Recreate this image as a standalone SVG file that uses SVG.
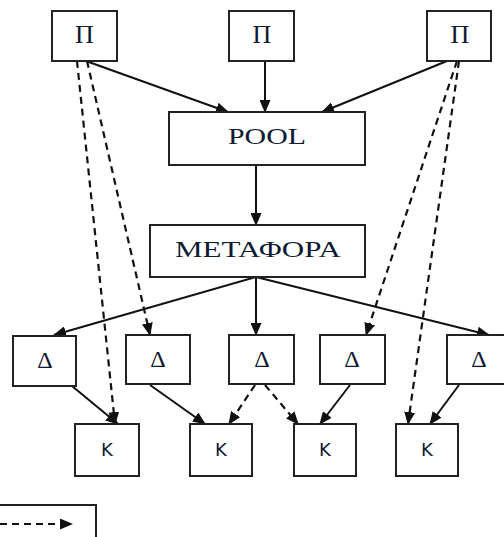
<svg xmlns="http://www.w3.org/2000/svg" width="504" height="537" viewBox="0 0 504 537">
<style>
.box{fill:#fff;stroke:#222;stroke-width:2}
.t{font-family:"Liberation Serif","Times New Roman",serif;fill:#0f1a33;text-anchor:middle}
.k{font-family:"DejaVu Sans","Liberation Sans",sans-serif;fill:#0f1a33;text-anchor:middle;font-size:18px}
.s{stroke:#111;stroke-width:2;fill:none;marker-end:url(#ah)}
.d{stroke:#111;stroke-width:2.2;fill:none;stroke-dasharray:7 5;marker-end:url(#ah)}
</style>
<defs>
<marker id="ah" markerUnits="userSpaceOnUse" markerWidth="13" markerHeight="11" refX="12" refY="5.5" orient="auto">
<path d="M0,0 L13,5.5 L0,11 z" fill="#111"/>
</marker>
</defs>
<g id="connectors">
<line class="s" x1="86" y1="61" x2="228" y2="112"/>
<line class="s" x1="265" y1="61" x2="265" y2="112"/>
<line class="s" x1="447" y1="61" x2="322" y2="112"/>
<line class="s" x1="256" y1="165" x2="256" y2="225"/>
<line class="s" x1="256" y1="277" x2="54" y2="335"/>
<line class="s" x1="256" y1="277" x2="256" y2="335"/>
<line class="s" x1="256" y1="277" x2="489" y2="335"/>
<line class="s" x1="72" y1="386" x2="118" y2="424"/>
<line class="s" x1="150" y1="385" x2="205" y2="424"/>
<line class="s" x1="350" y1="385" x2="320" y2="424"/>
<line class="s" x1="459" y1="385" x2="430" y2="424"/>
<line class="d" x1="77" y1="61" x2="115" y2="424"/>
<line class="d" x1="87" y1="61" x2="150" y2="335"/>
<line class="d" x1="457" y1="61" x2="366" y2="335"/>
<line class="d" x1="459" y1="61" x2="408" y2="424"/>
<line class="d" x1="255" y1="385" x2="229" y2="424"/>
<line class="d" x1="265" y1="385" x2="298" y2="424"/>
</g>
<g id="p1"><rect class="box" x="52" y="11" width="65" height="50"/><text class="t" x="84.5" y="43" font-size="26">Π</text></g>
<g id="p2"><rect class="box" x="229" y="11" width="65" height="50"/><text class="t" x="262" y="43" font-size="26">Π</text></g>
<g id="p3"><rect class="box" x="427" y="11" width="64" height="50"/><text class="t" x="460" y="43" font-size="26">Π</text></g>
<g id="pool"><rect class="box" x="169" y="112" width="196" height="53"/><text class="t" x="267" y="144" font-size="23" textLength="78" lengthAdjust="spacingAndGlyphs">POOL</text></g>
<g id="metafora"><rect class="box" x="150" y="225" width="215" height="52"/><text class="t" x="258" y="257" font-size="24" textLength="166" lengthAdjust="spacingAndGlyphs">ΜΕΤΑΦΟΡΑ</text></g>
<g id="d1"><rect class="box" x="13" y="336" width="63" height="50"/><text class="t" x="45" y="368" font-size="24">Δ</text></g>
<g id="d2"><rect class="box" x="126" y="335" width="64" height="49"/><text class="t" x="158" y="367" font-size="24">Δ</text></g>
<g id="d3"><rect class="box" x="229" y="335" width="65" height="49"/><text class="t" x="262" y="367" font-size="24">Δ</text></g>
<g id="d4"><rect class="box" x="320" y="335" width="65" height="49"/><text class="t" x="352" y="367" font-size="24">Δ</text></g>
<g id="d5"><rect class="box" x="447" y="335" width="64" height="49"/><text class="t" x="479" y="367" font-size="24">Δ</text></g>
<g id="k1"><rect class="box" x="75" y="424" width="64" height="52"/><text class="k" x="107" y="456">Κ</text></g>
<g id="k2"><rect class="box" x="190" y="424" width="62" height="52"/><text class="k" x="221" y="456">Κ</text></g>
<g id="k3"><rect class="box" x="294" y="424" width="62" height="52"/><text class="k" x="325" y="456">Κ</text></g>
<g id="k4"><rect class="box" x="396" y="424" width="62" height="52"/><text class="k" x="427" y="456">Κ</text></g>
<g id="legend"><rect class="box" x="-10" y="505" width="106" height="50"/><line class="d" x1="0" y1="524" x2="72" y2="524"/></g>
</svg>
